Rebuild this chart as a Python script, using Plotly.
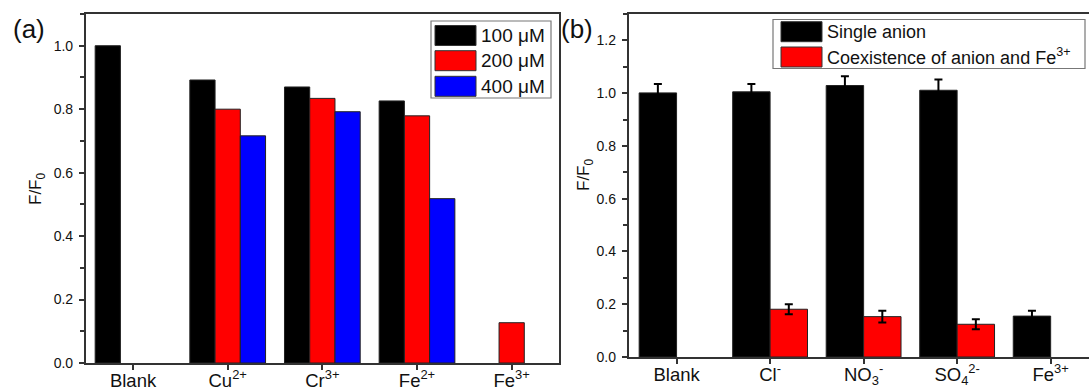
import plotly.graph_objects as go

W, H = 1089, 391

# ---------------- data ----------------
# panel (a)
cats_a = ["Blank", "Cu<sup>2+</sup>", "Cr<sup>3+</sup>", "Fe<sup>2+</sup>", "Fe<sup>3+</sup>"]
series_a_names = ["100 μM", "200 μM", "400 μM"]
vals_100 = [1.000, 0.892, 0.870, 0.826, None]
vals_200 = [None, 0.800, 0.834, 0.779, 0.127]
vals_400 = [None, 0.716, 0.792, 0.518, None]

# panel (b)
cats_b = ["Blank", "Cl<sup>-</sup>", "NO<sub>3</sub><sup>-</sup>", "SO<sub>4</sub><sup>2-</sup>", "Fe<sup>3+</sup>"]
series_b_names = ["Single anion", "Coexistence of anion and Fe<sup>3+</sup>"]
single_vals = [1.001, 1.005, 1.029, 1.011, 0.155]
single_err = [0.034, 0.030, 0.035, 0.041, 0.020]
coex_vals = [None, 0.181, 0.153, 0.124, None]
coex_err = [None, 0.019, 0.022, 0.019, None]

colors_a = ["#000000", "#ff0000", "#0000ff"]
colors_b = ["#000000", "#ff0000"]

FONT = "Arial, Liberation Sans, sans-serif"
LINEC = "#333333"

fig = go.Figure()
xa = list(range(len(cats_a)))
xb = list(range(len(cats_b)))

for name, vals, c in zip(series_a_names, [vals_100, vals_200, vals_400], colors_a):
    fig.add_trace(go.Bar(x=xa, y=vals, name=name, marker=dict(color=c, line=dict(color="#222222", width=1)),
                         xaxis="x", yaxis="y", showlegend=False))

fig.add_trace(go.Bar(x=xb, y=single_vals, name=series_b_names[0],
                     marker=dict(color=colors_b[0], line=dict(color="#222222", width=1)),
                     error_y=dict(type="data", array=single_err, color="#000000", thickness=2, width=4),
                     xaxis="x2", yaxis="y2", showlegend=False))
fig.add_trace(go.Bar(x=xb, y=coex_vals, name=series_b_names[1],
                     marker=dict(color=colors_b[1], line=dict(color="#222222", width=1)),
                     error_y=dict(type="data", array=coex_err, color="#000000", thickness=2, width=4),
                     xaxis="x2", yaxis="y2", showlegend=False))


def px_x(p):
    return p / W


def px_y(p):
    return 1 - p / H


common_x = dict(showline=True, linecolor=LINEC, linewidth=1.5, ticks="outside", ticklen=5, tickwidth=1.5,
                tickcolor=LINEC, showgrid=False, zeroline=False, tickfont=dict(family=FONT, size=18.5, color="#111"),
                ticklabelstandoff=-5, automargin=False)
common_y = dict(showline=True, linecolor=LINEC, linewidth=1.5, ticks="outside", ticklen=5, tickwidth=1.5,
                tickcolor=LINEC, showgrid=False, zeroline=False, tickformat=".1f", dtick=0.2, tick0=0,
                tickfont=dict(family=FONT, size=14, color="#111"), ticklabelstandoff=3,
                minor=dict(dtick=0.1, ticks="outside", ticklen=4, tickcolor=LINEC, tickwidth=1.5),
                automargin=False)

fig.update_layout(
    width=W, height=H,
    margin=dict(l=0, r=0, t=0, b=0),
    paper_bgcolor="white", plot_bgcolor="white",
    barmode="group", bargap=0.2, bargroupgap=0,
    font=dict(family=FONT, color="#111"),
    xaxis=dict(domain=[px_x(85.7), px_x(559)], range=[-0.5, 4.5], tickvals=xa, ticktext=cats_a,
               anchor="y", mirror=True, **common_x),
    yaxis=dict(domain=[px_y(363), px_y(14)], range=[0, 1.1], anchor="x", mirror=True, **common_y),
    xaxis2=dict(domain=[px_x(628.5), 1.0], range=[-0.514, 4.41], tickvals=xb, ticktext=cats_b,
                anchor="y2", mirror=True, **common_x),
    yaxis2=dict(domain=[px_y(357), px_y(14)], range=[0, 1.3], anchor="x2", mirror=False, **common_y),
)

shapes = []
annotations = []

# panel labels
annotations.append(dict(x=px_x(11), y=px_y(29), xref="paper", yref="paper", text="(a)", showarrow=False,
                        xanchor="left", yanchor="middle", font=dict(family=FONT, size=26, color="#111")))
annotations.append(dict(x=px_x(559), y=px_y(29), xref="paper", yref="paper", text="(b)", showarrow=False,
                        xanchor="left", yanchor="middle", font=dict(family=FONT, size=26, color="#111")))

# y-axis titles
annotations.append(dict(x=px_x(37), y=px_y(189), xref="paper", yref="paper", text="F/F<sub>0</sub>",
                        showarrow=False, textangle=-90, xanchor="center", yanchor="middle",
                        font=dict(family=FONT, size=17, color="#111")))
annotations.append(dict(x=px_x(585), y=px_y(175), xref="paper", yref="paper", text="F/F<sub>0</sub>",
                        showarrow=False, textangle=-90, xanchor="center", yanchor="middle",
                        font=dict(family=FONT, size=17, color="#111")))


def legend_box(x0, x1, y0, y1, names, cols, rows_y, sw_x0, sw_x1, txt_x, fs):
    shapes.append(dict(type="rect", xref="paper", yref="paper", x0=px_x(x0), x1=px_x(x1), y0=px_y(y1),
                       y1=px_y(y0), line=dict(color="#777777", width=1.2), fillcolor="white", layer="above"))
    for n, c, yc in zip(names, cols, rows_y):
        shapes.append(dict(type="rect", xref="paper", yref="paper", x0=px_x(sw_x0), x1=px_x(sw_x1),
                           y0=px_y(yc + 10), y1=px_y(yc - 10), line=dict(color="#333333", width=1),
                           fillcolor=c, layer="above"))
        annotations.append(dict(x=px_x(txt_x), y=px_y(yc), xref="paper", yref="paper", text=n,
                                showarrow=False, xanchor="left", yanchor="middle",
                                font=dict(family=FONT, size=fs, color="#111")))


legend_box(431, 551, 21, 98, series_a_names, colors_a, [35.5, 60.7, 86.3], 435, 476, 479, 19)
legend_box(773, 1085, 19.5, 68.5, series_b_names, colors_b, [31.7, 57.0], 781, 822, 825, 18)

fig.update_layout(shapes=shapes, annotations=annotations)

fig.write_html("out.html")
